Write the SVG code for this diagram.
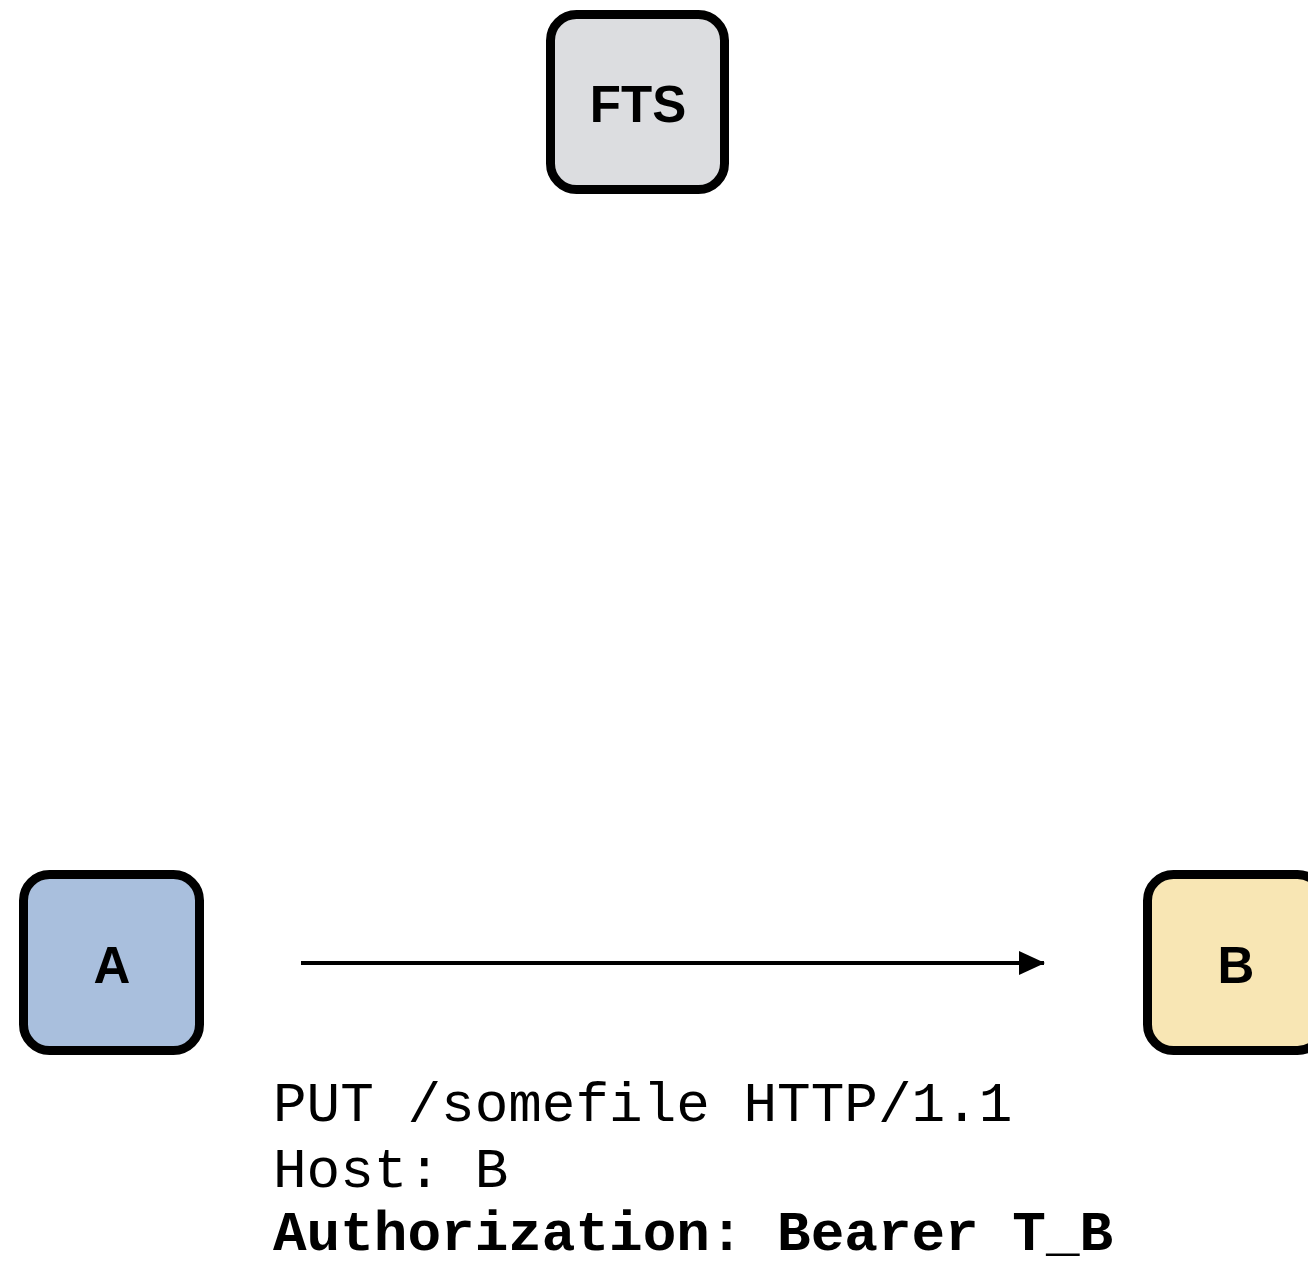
<svg xmlns="http://www.w3.org/2000/svg" width="1308" height="1264" viewBox="0 0 1308 1264">
  <style>
    .node { stroke: #000; stroke-width: 9; }
    .label { font-family: "Liberation Sans", Arial, sans-serif; font-weight: bold; font-size: 51px; text-anchor: middle; fill: #000; }
    .code { font-family: "Liberation Mono", "Courier New", monospace; font-size: 56px; fill: #000; }
    .code .b { font-weight: bold; }
    .edge { stroke: #000; stroke-width: 4; fill: none; }
  </style>
  <defs>
    <marker id="arrow" markerWidth="26" markerHeight="24" refX="25" refY="12" orient="auto" markerUnits="userSpaceOnUse">
      <path d="M0,0 L26,12 L0,24 Z" fill="#000"/>
    </marker>
  </defs>
  <rect width="1308" height="1264" fill="#fff"/>

  <g id="node-fts">
    <rect class="node" x="550.5" y="14.5" width="174" height="175" rx="26" fill="#dcdde0"/>
    <text class="label" x="638" y="122">FTS</text>
  </g>

  <g id="node-a">
    <rect class="node" x="23.5" y="874.5" width="176" height="176" rx="26" fill="#a9bfdd"/>
    <text class="label" x="112" y="983">A</text>
  </g>

  <g id="node-b">
    <rect class="node" x="1147.5" y="874.5" width="176" height="176" rx="26" fill="#f8e6b4"/>
    <text class="label" x="1236" y="983">B</text>
  </g>

  <g id="connectors">
    <line class="edge" x1="301" y1="963" x2="1044" y2="963" marker-end="url(#arrow)"/>
  </g>

  <g id="request-text">
    <text class="code" x="273" y="1121">PUT /somefile HTTP/1.1</text>
    <text class="code" x="273" y="1187">Host: B</text>
    <text class="code" x="273" y="1250"><tspan class="b">Authorization: Bearer T_B</tspan></text>
  </g>
</svg>
